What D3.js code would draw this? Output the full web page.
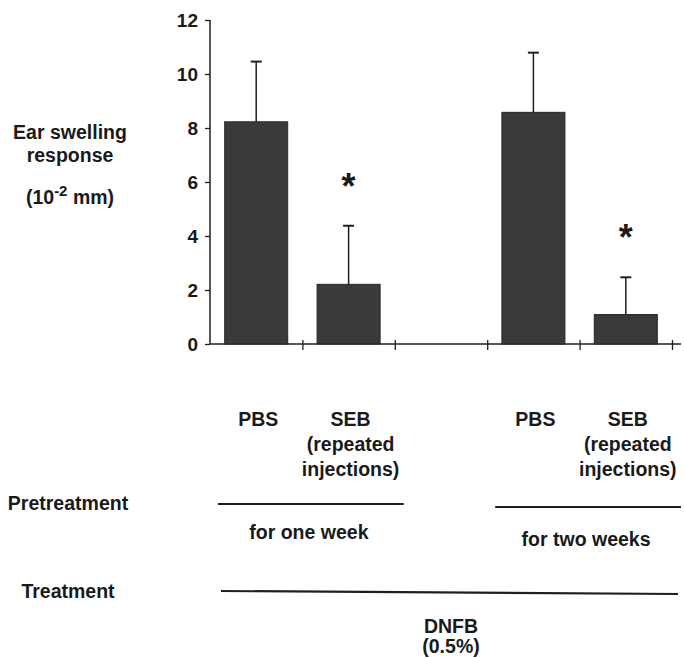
<!DOCTYPE html>
<html>
<head>
<meta charset="utf-8">
<script src="https://cdn.jsdelivr.net/npm/d3@7"></script>
<style>
  body { margin: 0; background: #fff; }
  svg text { font-family: "Liberation Sans", Arial, sans-serif; font-weight: bold; font-size: 19.5px; fill: #1a1a1a; }
</style>
</head>
<body>
<div id="vis"></div>
<script>
// data (ear swelling, 10^-2 mm)
var categories = ["PBS 1wk", "SEB 1wk", "gap", "PBS 2wk", "SEB 2wk"];
var means = [8.23, 2.21, null, 8.58, 1.09];
var errors = [2.23, 2.17, null, 2.21, 1.38];
var significant = [false, true, false, false, true];
var catLabels = [["PBS"], ["SEB", "(repeated", "injections)"], [], ["PBS"], ["SEB", "(repeated", "injections)"]];
var yTicks = [0, 2, 4, 6, 8, 10, 12];
var yLabel = ["Ear swelling", "response"];
var pretreatment = [
    { label: "for one week", from: 0, to: 2 },
    { label: "for two weeks", from: 3, to: 5 }
];
var treatmentLabel = ["DNFB", "(0.5%)"];

var width = 684, height = 658;
var ink = "#1f1f1f";

var svg = d3.select("#vis").append("svg")
    .attr("width", width)
    .attr("height", height);

// scales
var y = d3.scaleLinear().domain([0, 12]).range([344, 20]);
var x = d3.scaleBand().domain(categories).range([210, 672])
    .paddingInner(0.318).paddingOuter(0.159);
var xEdge = d3.scaleLinear().domain([0, categories.length]).range([210, 672]);

// y axis
var yAxis = svg.append("g")
    .attr("transform", "translate(210,0)")
    .call(d3.axisLeft(y).tickValues(yTicks).tickSize(5).tickPadding(7));
yAxis.select(".domain").remove();
yAxis.selectAll(".tick line").attr("stroke", ink).attr("stroke-width", 1.3);
yAxis.selectAll(".tick text").attr("fill", ink).style("font-size", "19px");
svg.append("line")
    .attr("x1", 210).attr("x2", 210)
    .attr("y1", y(12)).attr("y2", y(0))
    .attr("stroke", ink).attr("stroke-width", 1.5);

// x axis with ticks on the band edges
var xAxis = svg.append("g")
    .attr("transform", "translate(0," + y(0) + ")")
    .call(d3.axisBottom(xEdge).tickValues(d3.range(1, categories.length + 1)).tickSize(6).tickFormat(""));
xAxis.select(".domain").remove();
xAxis.selectAll(".tick line").attr("y1", -4).attr("stroke", ink).attr("stroke-width", 1.3);
svg.append("line")
    .attr("x1", 210).attr("x2", 681)
    .attr("y1", y(0)).attr("y2", y(0))
    .attr("stroke", ink).attr("stroke-width", 1.5);

var rows = categories.map(function(c, i) {
    return { cat: c, mean: means[i], err: errors[i], sig: significant[i], labels: catLabels[i] };
});
var barRows = rows.filter(function(d) { return d.mean !== null; });

// bars
svg.selectAll(".bar").data(barRows).enter().append("rect")
    .attr("class", "bar")
    .attr("x", function(d) { return x(d.cat); })
    .attr("y", function(d) { return y(d.mean); })
    .attr("width", x.bandwidth())
    .attr("height", function(d) { return y(0) - y(d.mean); })
    .attr("fill", "#3a3a3a")
    .attr("stroke", "#262626")
    .attr("stroke-width", 1);

// error bars (upper only)
var cx = function(d) { return x(d.cat) + x.bandwidth() / 2; };
svg.selectAll(".err").data(barRows).enter().append("line")
    .attr("class", "err")
    .attr("x1", cx).attr("x2", cx)
    .attr("y1", function(d) { return y(d.mean); })
    .attr("y2", function(d) { return y(d.mean + d.err); })
    .attr("stroke", ink).attr("stroke-width", 1.5);
svg.selectAll(".cap").data(barRows).enter().append("line")
    .attr("class", "cap")
    .attr("x1", function(d) { return cx(d) - 5.5; })
    .attr("x2", function(d) { return cx(d) + 5.5; })
    .attr("y1", function(d) { return y(d.mean + d.err); })
    .attr("y2", function(d) { return y(d.mean + d.err); })
    .attr("stroke", ink).attr("stroke-width", 2);

// significance asterisks
svg.selectAll(".star").data(barRows.filter(function(d) { return d.sig; })).enter().append("text")
    .attr("class", "star")
    .attr("x", cx)
    .attr("y", function(d) { return y(d.mean + d.err) - 27; })
    .attr("text-anchor", "middle")
    .style("font-size", "36px")
    .text("*");

// category labels under the axis
rows.forEach(function(d) {
    d.labels.forEach(function(t, j) {
        svg.append("text")
            .attr("x", cx(d) + 2)
            .attr("y", 426 + j * 25)
            .attr("text-anchor", "middle")
            .text(t);
    });
});

// y axis title
yLabel.forEach(function(t, j) {
    svg.append("text")
        .attr("x", 70).attr("y", 139 + j * 23)
        .attr("text-anchor", "middle")
        .text(t);
});
var unit = svg.append("text")
    .attr("x", 70).attr("y", 204)
    .attr("text-anchor", "middle");
unit.append("tspan").text("(10");
unit.append("tspan").attr("dy", -8).style("font-size", "15px").text("-2");
unit.append("tspan").attr("dy", 8).text("  mm)");

// pretreatment row
svg.append("text").attr("x", 68).attr("y", 510).attr("text-anchor", "middle").text("Pretreatment");
pretreatment.forEach(function(p, i) {
    var x0 = xEdge(p.from) + 8, x1 = xEdge(p.to) + 9;
    svg.append("line")
        .attr("x1", x0).attr("x2", x1)
        .attr("y1", 504 + i * 3).attr("y2", 504 + i * 3)
        .attr("stroke", ink).attr("stroke-width", 2.2);
    svg.append("text")
        .attr("x", (x0 + x1) / 2 - 2)
        .attr("y", 539 + i * 7)
        .attr("text-anchor", "middle")
        .text(p.label);
});

// treatment row
svg.append("text").attr("x", 68).attr("y", 598).attr("text-anchor", "middle").text("Treatment");
svg.append("line")
    .attr("x1", xEdge(0) + 11).attr("x2", xEdge(categories.length) + 6)
    .attr("y1", 591).attr("y2", 594)
    .attr("stroke", ink).attr("stroke-width", 2.2);
treatmentLabel.forEach(function(t, j) {
    svg.append("text")
        .attr("x", 451).attr("y", 633 + j * 20)
        .attr("text-anchor", "middle")
        .text(t);
});
</script>
</body>
</html>
